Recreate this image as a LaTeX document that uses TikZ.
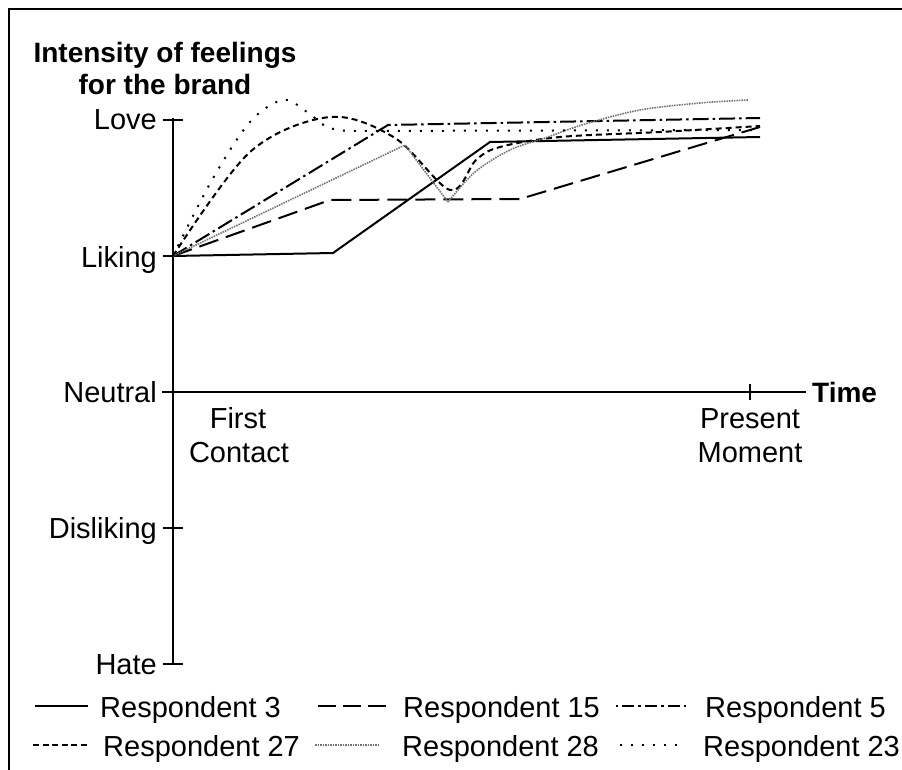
\documentclass[tikz,border=0pt]{standalone}
\usepackage{fontspec}
\setmainfont{Liberation Sans}
\begin{document}
\begin{tikzpicture}[x=1pt,y=-1pt,
  axis/.style={line width=2.4pt,black},
  r3/.style={line width=2pt},
  r15/.style={line width=2pt,dash pattern=on 20pt off 8pt},
  r5/.style={line width=2pt,dash pattern=on 16pt off 4pt on 2.5pt off 4pt},
  r27/.style={line width=2pt,dash pattern=on 6pt off 4pt},
  r28/.style={line width=1.6pt,black!55,dash pattern=on 1.5pt off 1pt},
  r23/.style={line width=2pt,dash pattern=on 2pt off 9pt},
  lab/.style={inner sep=0pt,font=\fontsize{29}{34}\selectfont},
  blab/.style={inner sep=0pt,font=\fontsize{28}{34}\selectfont\bfseries}]
\useasboundingbox (0,0) rectangle (902,770);
% frame (top and left only visible)
\draw[line width=2.4pt] (9,770) -- (9,9) -- (902,9);
% title
\node[blab,anchor=base] (t1) at (165,63) {Intensity of feelings};
\node[blab,anchor=base] (t2) at (165,95) {for the brand};
% axes
\coordinate (ytop) at (173,118);
\coordinate (ybot) at (173,664);
\coordinate (xl) at (162,392);
\coordinate (xr) at (806,392);
\draw[axis] (ytop) -- (ybot);
\draw[axis] (xl) -- (xr);
\foreach \n/\y in {love/120,liking/256,disl/528,hate/664}{
  \draw[axis] (163,\y) -- (183,\y);
}
\draw[axis] (750,384) -- (750,400);
% axis labels
\node[lab,anchor=base east] (love) at (157,130) {Love};
\node[lab,anchor=base east] (liking) at (157,267) {Liking};
\node[lab,anchor=base east] (neutral) at (157,402) {Neutral};
\node[lab,anchor=base east] (disliking) at (157,538) {Disliking};
\node[lab,anchor=base east] (hate) at (157,674) {Hate};
\node[blab,anchor=base west] (time) at (812,402) {Time};
\node[lab,anchor=base] (first) at (238,428) {First};
\node[lab,anchor=base] (contact) at (239,462) {Contact};
\node[lab,anchor=base] (present) at (750,428) {Present};
\node[lab,anchor=base] (moment) at (750,462) {Moment};
% data
\coordinate (o) at (173,256);
\draw[r3,line join=round] (o) -- (333,253) -- (490,142) -- (760,137);
\draw[r15,line join=round] (o) -- (330,200) -- (520,199) -- (760,127);
\draw[r5,line join=round] (o) -- (388,125) -- (760,118);
\draw[r27] plot[smooth,tension=0.55] coordinates {(173,256) (250,152) (330,117) (395,138) (450,190) (476,160) (500,147) (560,137) (660,132) (760,126)};
\draw[r28] (o) -- (405,145) -- (448,202) plot[smooth,tension=0.55] coordinates {(448,202) (475,172) (510,150) (545,138) (585,124) (640,110) (700,103) (748,100)};
\draw[r23] plot[smooth,tension=0.55] coordinates {(173,256) (212,180) (250,122) (283,100) (307,112) (327,127) (348,131)} -- (760,130);
% legend
\draw[r3] (35,706) -- (88,706);
\node[lab,anchor=base west] (l3) at (100,717) {Respondent 3};
\draw[line width=2pt,dash pattern=on 18pt off 7pt] (318,706) -- (393,706);
\node[lab,anchor=base west] (l15) at (403,717) {Respondent 15};
\draw[line width=2pt,dash pattern=on 12pt off 4pt on 3pt off 4pt,dash phase=-6pt] (616,706) -- (686,706);
\node[lab,anchor=base west] (l5) at (705,717) {Respondent 5};
\draw[line width=2pt,dash pattern=on 6pt off 3.5pt] (33,745) -- (88,745);
\node[lab,anchor=base west] (l27) at (103,756) {Respondent 27};
\draw[r28] (315,745) -- (379,745);
\node[lab,anchor=base west] (l28) at (402,756) {Respondent 28};
\draw[line width=2pt,dash pattern=on 2pt off 9pt] (620,745) -- (685,745);
\node[lab,anchor=base west] (l23) at (703,756) {Respondent 23};
\end{tikzpicture}
\end{document}
